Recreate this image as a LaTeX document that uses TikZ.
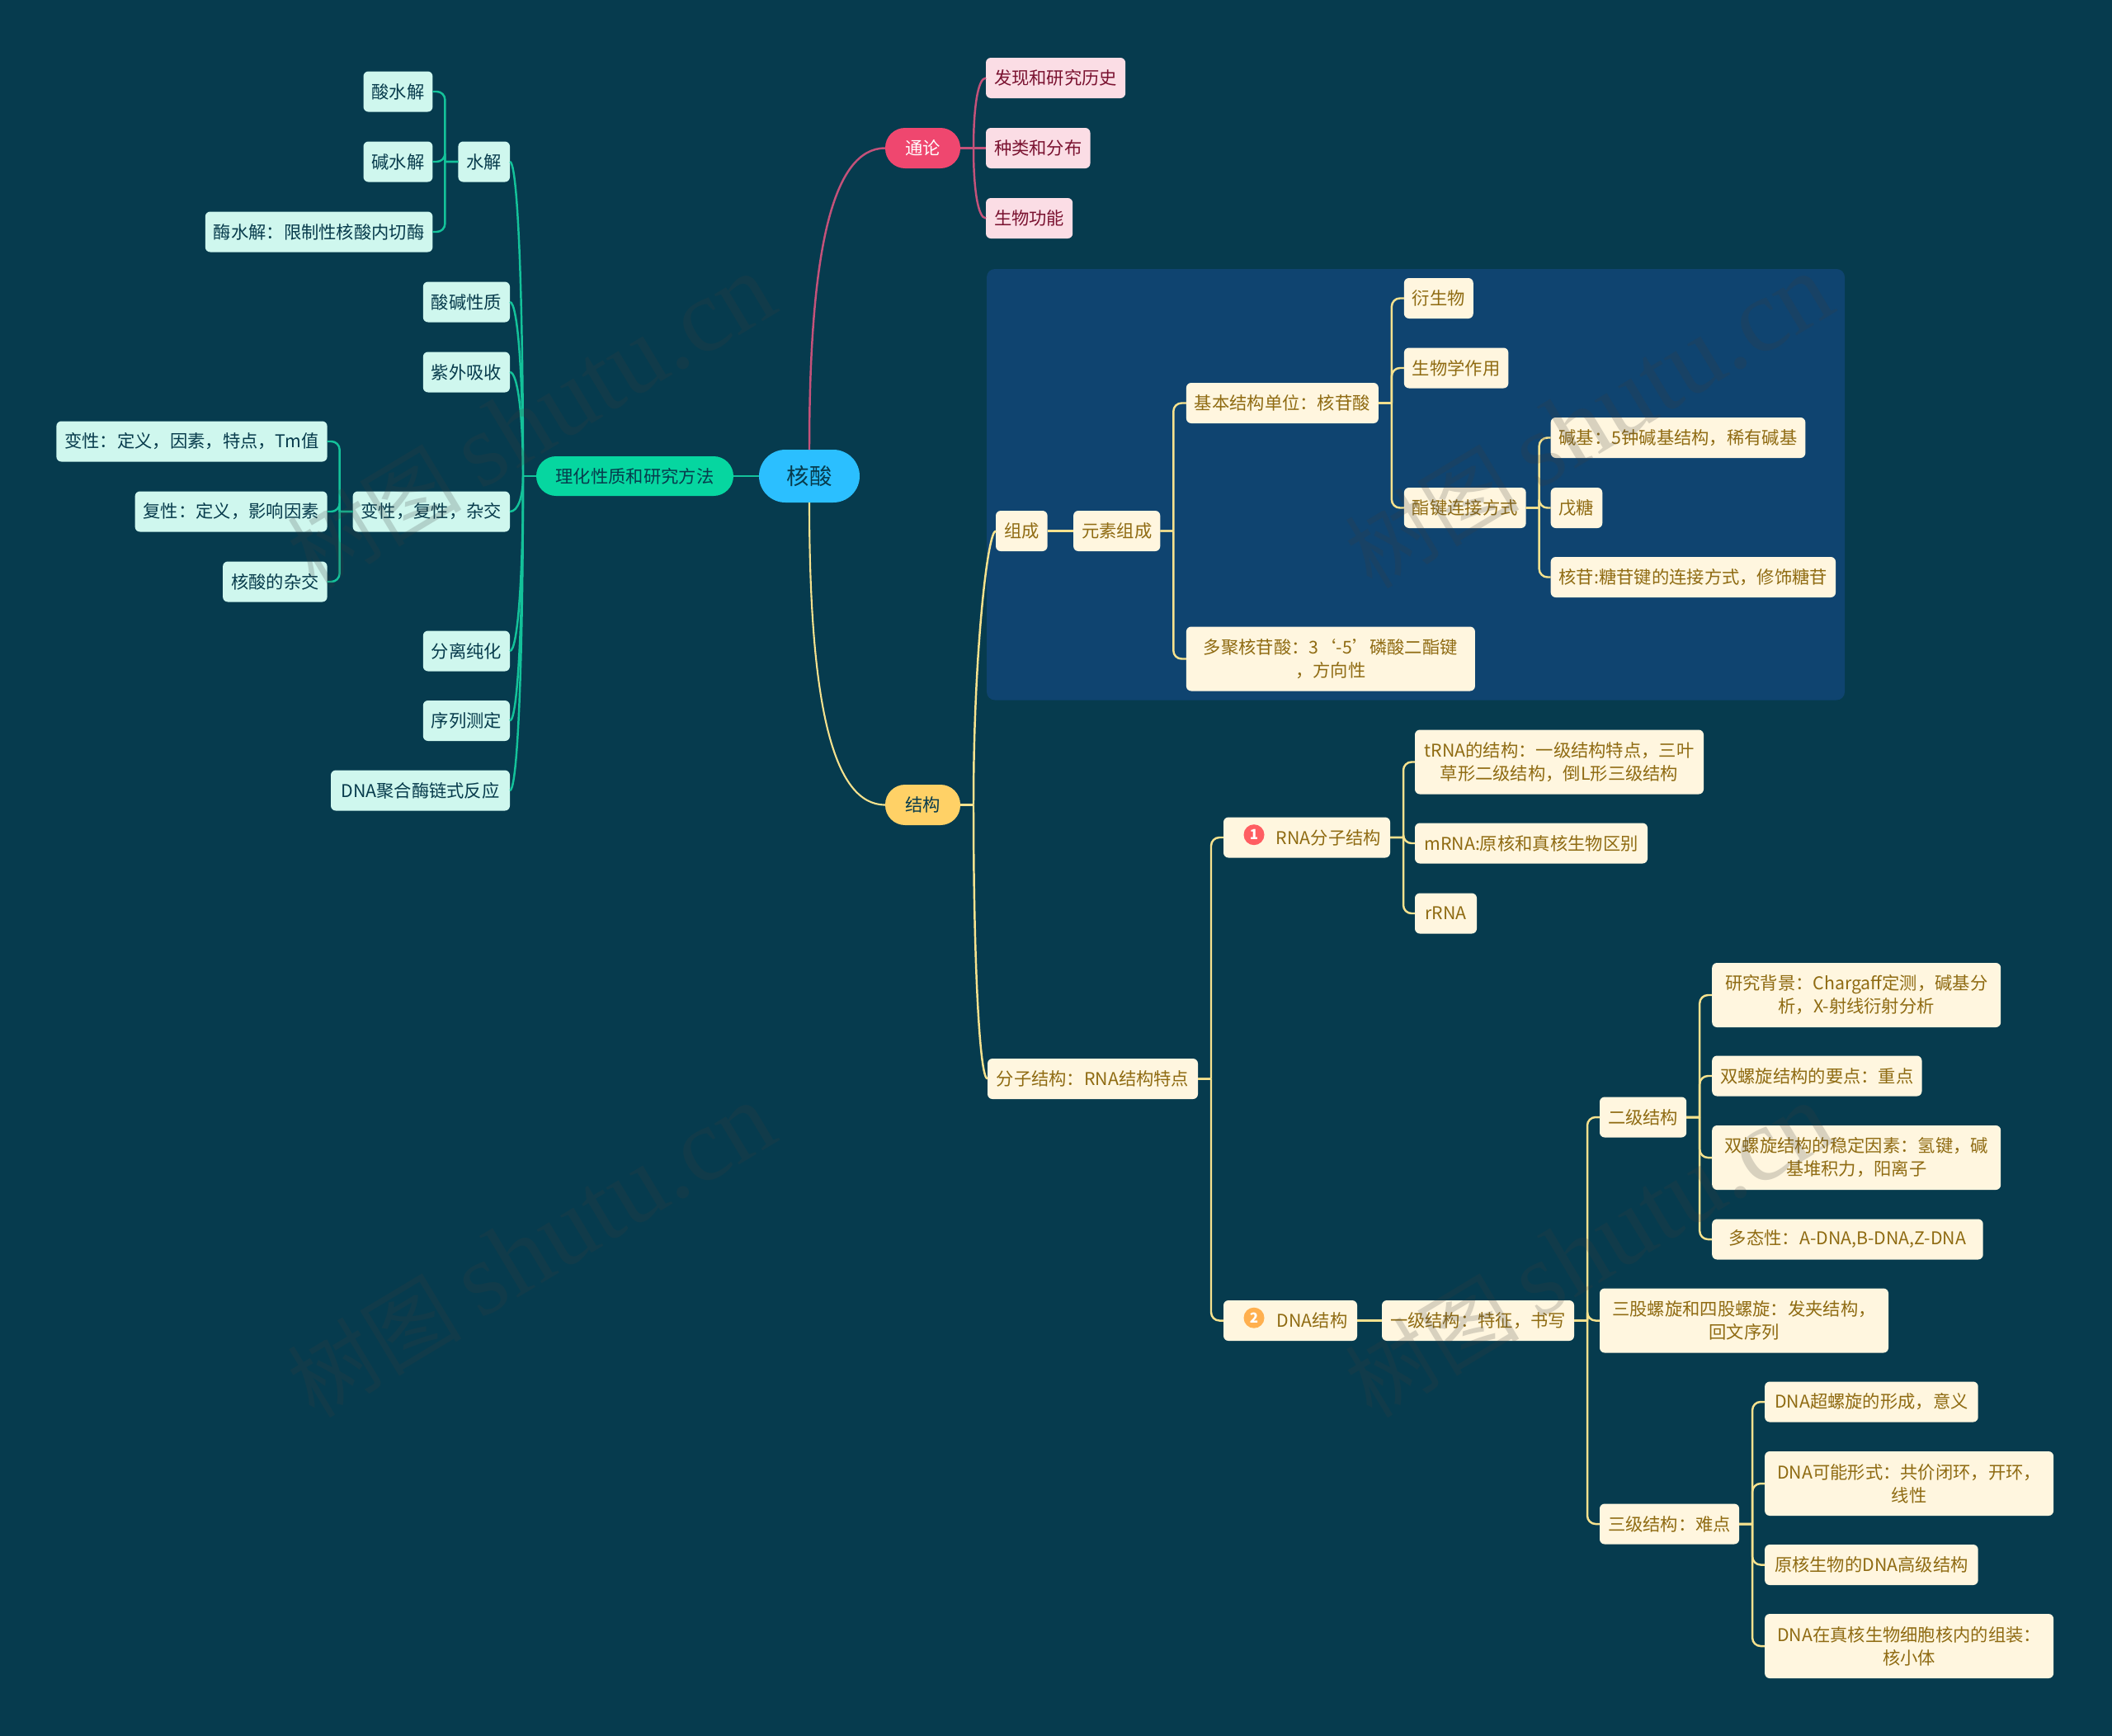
\documentclass[tikz,border=0pt]{standalone}
\usepackage{fontspec}
\setmainfont{Noto Sans CJK SC}
\newfontfamily\markfont{Liberation Serif}
\usepackage{xcolor}
\usetikzlibrary{positioning,fit,backgrounds}
\definecolor{nsback}{HTML}{063B4E}
\definecolor{nspanel}{HTML}{0F4470}
\definecolor{nsroot}{HTML}{2BBFFF}
\definecolor{nsink}{HTML}{073B4C}
\definecolor{nsred}{HTML}{EF476F}
\definecolor{nsyellow}{HTML}{FFD166}
\definecolor{nsgreen}{HTML}{06D6A0}
\definecolor{nsmint}{HTML}{CFF7EE}
\definecolor{nscream}{HTML}{FFF6DF}
\definecolor{nsrose}{HTML}{FBDDE5}
\definecolor{nsgold}{HTML}{8F6B12}
\definecolor{nswine}{HTML}{7A1230}
\definecolor{nsgline}{HTML}{14C29A}
\definecolor{nsyline}{HTML}{F6E28E}
\definecolor{nspline}{HTML}{C4527A}
\definecolor{nsbadgea}{HTML}{FF5E62}
\definecolor{nsbadgeb}{HTML}{FFB04F}
\begin{document}
\begin{tikzpicture}[
  box/.style={rounded corners=0.06cm,inner xsep=0.1cm,inner ysep=0pt,outer sep=0pt,minimum height=0.49cm,align=center,font=\fontsize{6.06}{7.97}\selectfont},
  mint/.style={box,fill=nsmint,text=nsink},
  cream/.style={box,fill=nscream,text=nsgold},
  creamwide/.style={cream,minimum height=0.78cm,minimum width=3.5cm},
  rose/.style={box,fill=nsrose,text=nswine},
  pill/.style={box,rounded corners=0.24cm,minimum width=0.91cm},
  badge/.style={circle,inner sep=0pt,outer sep=0pt,minimum size=0.25cm,text=white,font=\fontsize{4.8}{5}\selectfont},
  gline/.style={line width=0.7pt,color=nsgline,rounded corners=0.1cm},
  yline/.style={line width=0.7pt,color=nsyline,rounded corners=0.1cm},
  pline/.style={line width=0.7pt,color=nspline},
  elbowr/.style={to path={-- ++(0.16,0) ++(0,0) |- (\tikztotarget)}},
  elbowl/.style={to path={-- ++(-0.16,0) ++(0,0) |- (\tikztotarget)}},
  taper/.style={out looseness=1.4,in min distance=0.1cm,in max distance=0.1cm},
  watermark/.style={rotate=31,text=black!76,opacity=0.2,font=\fontsize{30}{30}\selectfont}
]
  \useasboundingbox (0,0) rectangle (25.6,-21.04);
  % centre and the left wing
  \node[box,rounded corners=0.32cm,minimum width=1.22cm,minimum height=0.64cm,fill=nsroot,text=nsink,font=\fontsize{7.8}{9}\selectfont] (root) at (9.81,-5.77) {核酸};
  \node[pill,fill=nsgreen,text=nsink,left=0.31cm of root,minimum height=0.48cm,minimum width=2.39cm] (lihua) {理化性质和研究方法};
  \node[mint,left=0.32cm of lihua,yshift=3.81cm] (shuijie) {水解};
  \node[mint,left=0.32cm of lihua,yshift=2.11cm] (suanjian) {酸碱性质};
  \node[mint,left=0.32cm of lihua,yshift=1.26cm] (ziwai) {紫外吸收};
  \node[mint,left=0.32cm of lihua,yshift=-0.43cm] (bianxing) {变性，复性，杂交};
  \node[mint,left=0.32cm of lihua,yshift=-2.12cm] (fenli) {分离纯化};
  \node[mint,left=0.32cm of lihua,yshift=-2.965cm] (xulie) {序列测定};
  \node[mint,left=0.32cm of lihua,yshift=-3.81cm,minimum width=2.17cm] (pcr) {DNA聚合酶链式反应};
  \node[mint,left=0.31cm of shuijie,yshift=0.85cm] (suanshui) {酸水解};
  \node[mint,left=0.31cm of shuijie] (jianshui) {碱水解};
  \node[mint,left=0.31cm of shuijie,yshift=-0.85cm] (meishui) {酶水解：限制性核酸内切酶};
  \node[mint,left=0.31cm of bianxing,yshift=0.85cm] (bian) {变性：定义，因素，特点，Tm值};
  \node[mint,left=0.31cm of bianxing] (fu) {复性：定义，影响因素};
  \node[mint,left=0.31cm of bianxing,yshift=-0.85cm] (zajiao) {核酸的杂交};
  % general branch
  \node[pill,fill=nsred,text=white,right=0.31cm of root,yshift=3.975cm] (tonglun) {通论};
  \node[rose,right=0.31cm of tonglun,yshift=0.85cm] (lishi) {发现和研究历史};
  \node[rose,right=0.31cm of tonglun] (fenbu) {种类和分布};
  \node[rose,right=0.31cm of tonglun,yshift=-0.85cm] (gongneng) {生物功能};
  % structure branch
  \node[pill,fill=nsyellow,text=nsink,right=0.31cm of root,yshift=-3.985cm] (jiegou) {结构};
  \node[cream,right=0.43cm of jiegou,yshift=3.32cm] (zucheng) {组成};
  \node[cream,right=0.315cm of zucheng] (yuansu) {元素组成};
  \node[cream,right=0.316cm of yuansu,yshift=1.55cm] (danwei) {基本结构单位：核苷酸};
  \node[creamwide,right=0.316cm of yuansu,yshift=-1.55cm] (duoju) {多聚核苷酸：3‘-5’磷酸二酯键\\，方向性};
  \node[cream,right=0.31cm of danwei,yshift=1.27cm] (yansheng) {衍生物};
  \node[cream,right=0.31cm of danwei,yshift=0.425cm] (zuoyong) {生物学作用};
  \node[cream,right=0.31cm of danwei,yshift=-1.27cm] (zhijian) {酯键连接方式};
  \node[cream,right=0.3cm of zhijian,yshift=0.85cm] (jianji) {碱基：5钟碱基结构，稀有碱基};
  \node[cream,right=0.3cm of zhijian] (wutang) {戊糖};
  \node[cream,right=0.3cm of zhijian,yshift=-0.84cm] (hegan) {核苷:糖苷键的连接方式，修饰糖苷};
  \node[cream,right=0.33cm of jiegou,yshift=-3.32cm,minimum width=2.55cm] (fenzi) {分子结构：RNA结构特点};
  \node[cream,right=0.31cm of fenzi,yshift=2.925cm,minimum width=2.02cm] (rna) {\hspace*{0.53cm}RNA分子结构};
  \node[badge,fill=nsbadgea,right=0.245cm of rna.west,yshift=0.033cm] (one) {\textbf{1}};
  \node[cream,right=0.31cm of fenzi,yshift=-2.93cm,minimum width=1.62cm] (dna) {\hspace*{0.53cm}DNA结构};
  \node[badge,fill=nsbadgeb,right=0.245cm of dna.west,yshift=0.033cm] (two) {\textbf{2}};
  \node[creamwide,right=0.3cm of rna,yshift=0.915cm] (trna) {tRNA的结构：一级结构特点，三叶\\草形二级结构，倒L形三级结构};
  \node[cream,right=0.3cm of rna,yshift=-0.07cm,minimum width=2.82cm] (mrna) {mRNA:原核和真核生物区别};
  \node[cream,right=0.3cm of rna,yshift=-0.92cm,minimum width=0.75cm] (rrna) {rRNA};
  \node[cream,right=0.3cm of dna,minimum width=2.33cm] (yiji) {一级结构：特征，书写};
  \node[cream,right=0.31cm of yiji,yshift=2.465cm,minimum width=1.05cm] (erji) {二级结构};
  \node[creamwide,right=0.31cm of yiji] (sangu) {三股螺旋和四股螺旋：发夹结构，\\回文序列};
  \node[cream,right=0.31cm of yiji,yshift=-2.465cm,minimum width=1.69cm] (sanji) {三级结构：难点};
  \node[creamwide,right=0.31cm of erji,yshift=1.48cm] (beijing) {研究背景：Chargaff定测，碱基分\\析，X-射线衍射分析};
  \node[cream,right=0.31cm of erji,yshift=0.5cm] (yaodian) {双螺旋结构的要点：重点};
  \node[creamwide,right=0.31cm of erji,yshift=-0.49cm] (wending) {双螺旋结构的稳定因素：氢键，碱\\基堆积力，阳离子};
  \node[cream,right=0.31cm of erji,yshift=-1.48cm,minimum width=3.285cm] (duotai) {多态性：A-DNA,B-DNA,Z-DNA};
  \node[cream,right=0.31cm of sanji,yshift=1.48cm,minimum width=2.586cm] (chao) {DNA超螺旋的形成，意义};
  \node[creamwide,right=0.31cm of sanji,yshift=0.49cm] (xingshi) {DNA可能形式：共价闭环，开环，\\线性};
  \node[cream,right=0.31cm of sanji,yshift=-0.495cm,minimum width=2.586cm] (gaoji) {原核生物的DNA高级结构};
  \node[creamwide,right=0.31cm of sanji,yshift=-1.48cm] (zuzhuang) {DNA在真核生物细胞核内的组装：\\核小体};
  \coordinate[left=0.16cm of lihua.west] (lihuabus);
  \coordinate[right=0.16cm of tonglun.east] (tonglunbus);
  \coordinate[right=0.16cm of jiegou.east] (jiegoubus);
  \begin{scope}[on background layer]
    \fill[nsback] (0,0) rectangle (25.6,-21.04);
    \node[fit=(zucheng)(hegan)(yansheng)(duoju),fill=nspanel,rounded corners=0.1cm,inner sep=0.11cm] (panel) {};
  \end{scope}
  % root curves
  \draw[gline] (root) -- (lihua);
  \draw[pline] (root.north) to[out=90,in=180,out looseness=1.66,in looseness=0.43] (tonglun.west);
  \draw[yline,line width=0.6pt] (root.south) to[out=-90,in=180,out looseness=1.66,in looseness=0.43] (jiegou.west);
  % left wing connectors
  \draw[gline] (lihua.west) -- (lihuabus);
  \draw[gline] (lihuabus) to[out=90,in=0,taper] (shuijie.east);
  \draw[gline] (lihuabus) to[out=90,in=0,taper] (suanjian.east);
  \draw[gline] (lihuabus) to[out=90,in=0,taper] (ziwai.east);
  \draw[gline] (lihuabus) to[out=-90,in=0,taper] (bianxing.east);
  \draw[gline] (lihuabus) to[out=-90,in=0,taper] (fenli.east);
  \draw[gline] (lihuabus) to[out=-90,in=0,taper] (xulie.east);
  \draw[gline] (lihuabus) to[out=-90,in=0,taper] (pcr.east);
  \draw[gline] (shuijie.west) to[elbowl] (suanshui.east);
  \draw[gline] (shuijie.west) to[elbowl] (jianshui.east);
  \draw[gline] (shuijie.west) to[elbowl] (meishui.east);
  \draw[gline] (bianxing.west) to[elbowl] (bian.east);
  \draw[gline] (bianxing.west) to[elbowl] (fu.east);
  \draw[gline] (bianxing.west) to[elbowl] (zajiao.east);
  % general branch connectors
  \draw[pline] (tonglun.east) -- (fenbu.west);
  \draw[pline] (tonglunbus) to[out=90,in=180,taper] (lishi.west);
  \draw[pline] (tonglunbus) to[out=-90,in=180,taper] (gongneng.west);
  % structure branch connectors
  \draw[yline] (jiegou.east) -- (jiegoubus);
  \draw[yline] (jiegoubus) to[out=90,in=180,taper] (zucheng.west);
  \draw[yline] (jiegoubus) to[out=-90,in=180,taper] (fenzi.west);
  \draw[yline] (zucheng) -- (yuansu);
  \draw[yline] (yuansu.east) to[elbowr] (danwei.west);
  \draw[yline] (yuansu.east) to[elbowr] (duoju.west);
  \draw[yline] (danwei.east) to[elbowr] (yansheng.west);
  \draw[yline] (danwei.east) to[elbowr] (zuoyong.west);
  \draw[yline] (danwei.east) to[elbowr] (zhijian.west);
  \draw[yline] (zhijian.east) to[elbowr] (jianji.west);
  \draw[yline] (zhijian.east) to[elbowr] (wutang.west);
  \draw[yline] (zhijian.east) to[elbowr] (hegan.west);
  \draw[yline] (fenzi.east) to[elbowr] (rna.west);
  \draw[yline] (fenzi.east) to[elbowr] (dna.west);
  \draw[yline] (rna.east) to[elbowr] (trna.west);
  \draw[yline] (rna.east) to[elbowr] (mrna.west);
  \draw[yline] (rna.east) to[elbowr] (rrna.west);
  \draw[yline] (dna) -- (yiji);
  \draw[yline] (yiji.east) to[elbowr] (erji.west);
  \draw[yline] (yiji.east) to[elbowr] (sangu.west);
  \draw[yline] (yiji.east) to[elbowr] (sanji.west);
  \draw[yline] (erji.east) to[elbowr] (beijing.west);
  \draw[yline] (erji.east) to[elbowr] (yaodian.west);
  \draw[yline] (erji.east) to[elbowr] (wending.west);
  \draw[yline] (erji.east) to[elbowr] (duotai.west);
  \draw[yline] (sanji.east) to[elbowr] (chao.west);
  \draw[yline] (sanji.east) to[elbowr] (xingshi.west);
  \draw[yline] (sanji.east) to[elbowr] (gaoji.west);
  \draw[yline] (sanji.east) to[elbowr] (zuzhuang.west);
  % watermark
  \node[watermark] (markone) at (6.44,-5.11) {树图 {\markfont\fontsize{36}{36}\selectfont shutu.cn}};
  \node[watermark] (marktwo) at (19.26,-5.11) {树图 {\markfont\fontsize{36}{36}\selectfont shutu.cn}};
  \node[watermark] (markthree) at (6.44,-15.16) {树图 {\markfont\fontsize{36}{36}\selectfont shutu.cn}};
  \node[watermark] (markfour) at (19.26,-15.16) {树图 {\markfont\fontsize{36}{36}\selectfont shutu.cn}};
\end{tikzpicture}
\end{document}
